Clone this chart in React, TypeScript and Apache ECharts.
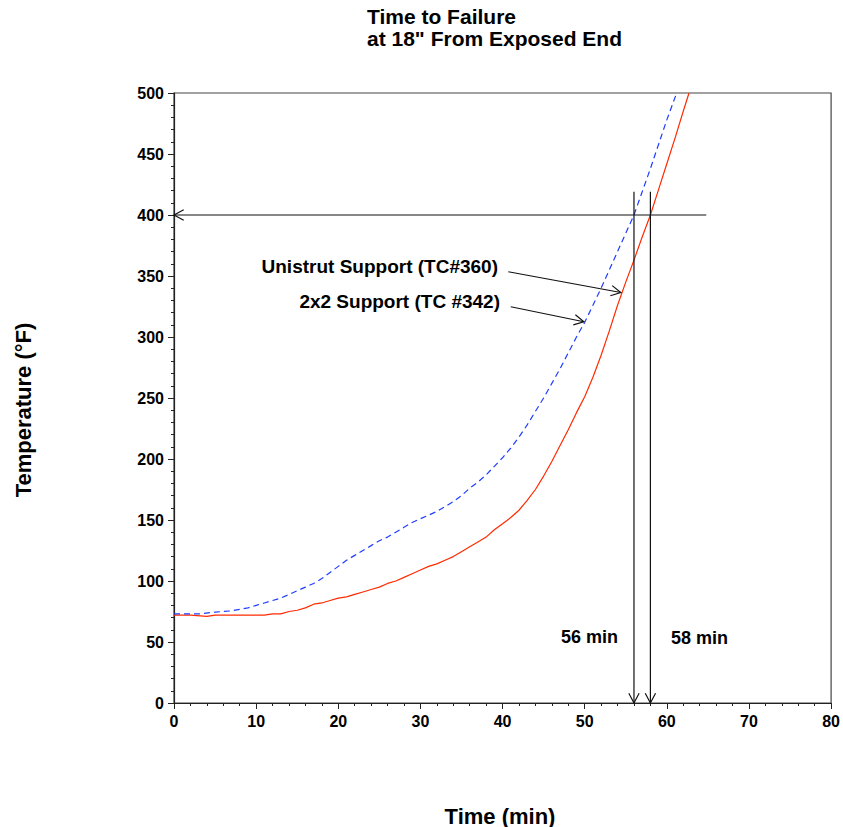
import React, { useEffect, useRef } from "react";
import * as echarts from "echarts";

const titleLine1 = "Time to Failure";
const titleLine2 = "at 18\" From Exposed End";
const xAxisTitle = "Time (min)";
const yAxisTitle = "Temperature (°F)";

// Unistrut Support (TC#360) - red solid
const unistrut: [number, number][] = [
  [0, 72], [2, 72], [4, 71], [5, 72], [8, 72], [11, 72], [12, 73], [13, 73], [14, 75], [15, 76],
  [16, 78], [17, 81], [18, 82], [19, 84], [20, 86], [21, 87], [22, 89], [23, 91], [24, 93], [25, 95],
  [26, 98], [27, 100], [28, 103], [29, 106], [30, 109], [31, 112], [32, 114], [33, 117], [34, 120],
  [35, 124], [36, 128], [37, 132], [38, 136], [39, 142], [40, 147], [41, 152], [42, 158], [43, 166],
  [44, 175], [45, 186], [46, 198], [47, 211], [48, 224], [49, 238], [50, 251], [51, 267], [52, 285],
  [53, 305], [54, 326], [55, 345], [56, 363], [57, 382], [58, 400], [59, 421], [60, 442], [61, 463],
  [62, 485], [62.7, 500],
];

// 2x2 Support (TC #342) - blue dashed
const twoByTwo: [number, number][] = [
  [0, 73], [3, 73], [5, 74.5], [7, 75.5], [9, 78], [10, 80], [11, 82], [12, 84], [13, 86], [14, 89],
  [15, 92], [16, 95], [17, 98], [18, 102], [19, 107], [20, 112], [21, 117], [22, 121], [23, 125],
  [24, 129], [25, 133], [26, 136], [27, 140], [28, 144], [29, 148], [30, 151], [31, 154], [32, 157],
  [33, 161], [34, 165], [35, 170], [36, 176], [37, 181], [38, 187], [39, 194], [40, 201], [41, 209],
  [42, 218], [43, 228], [44, 239], [45, 250], [46, 262], [47, 274], [48, 287], [49, 300], [50, 312],
  [51, 326], [52, 340], [53, 355], [54, 370], [55, 385], [56, 400], [57, 419], [58, 438], [59, 458],
  [60, 478], [61.2, 500],
];

// arrows: [x1, y1, x2, y2] (head at x2,y2)
const arrows: [number, number, number, number][] = [
  [64.8, 400, 0, 400],
  [56, 419, 56, 0],
  [58, 419, 58, 0],
  [40.7, 353.5, 54.4, 336.5],
  [41.0, 324.8, 49.9, 312.5],
];

const labelUnistrut = "Unistrut Support (TC#360)";
const label2x2 = "2x2 Support (TC #342)";
const label56 = "56 min";
const label58 = "58 min";

const FONT = "'Liberation Sans', Arial, Helvetica, sans-serif";

export default function App() {
  const ref = useRef<HTMLDivElement>(null);
  useEffect(() => {
    if (!ref.current) return;
    const chart = echarts.init(ref.current, null, { renderer: "svg" });
    const axisCommon = {
      axisLine: { show: true, lineStyle: { color: "#222", width: 1.2 } },
      axisTick: { show: true, length: 6, lineStyle: { color: "#222", width: 1 } },
      minorTick: { show: true, splitNumber: 5, length: 3, lineStyle: { color: "#222", width: 1 } },
      splitLine: { show: false },
    };
    const txt = (text: string, x: number, y: number, size: number, align: string, extra: any = {}) => ({
      type: "text", x, y, ...extra,
      style: {
        text, fontSize: size, fontWeight: "bold", fontFamily: FONT, fill: "#000",
        textAlign: align, textVerticalAlign: "middle",
      },
    });
    chart.setOption({
      animation: false,
      backgroundColor: "#fff",
      grid: {
        left: 174, top: 93, right: 10, bottom: 124,
        show: true, borderColor: "#444", borderWidth: 1.2,
      },
      xAxis: {
        type: "value", min: 0, max: 80, interval: 10,
        ...axisCommon,
        axisLabel: { fontSize: 16, fontWeight: "bold", color: "#000", fontFamily: FONT, margin: 10 },
      },
      yAxis: {
        type: "value", min: 0, max: 500, interval: 50,
        ...axisCommon,
        axisLabel: { fontSize: 16, fontWeight: "bold", color: "#000", fontFamily: FONT, margin: 10 },
      },
      series: [
        {
          type: "line", name: "Unistrut", data: unistrut, showSymbol: false, symbol: "none",
          lineStyle: { color: "#ff2a00", width: 1.2 }, z: 3,
        },
        {
          type: "line", name: "2x2", data: twoByTwo, showSymbol: false, symbol: "none",
          lineStyle: { color: "#1f3dff", width: 1.2, type: [6, 4] }, z: 3,
        },
        {
          type: "custom",
          name: "arrows",
          data: arrows,
          dimensions: ["x1", "y1", "x2", "y2"],
          encode: { x: [0, 2], y: [1, 3] },
          clip: false,
          z: 4,
          renderItem: (params: any, api: any) => {
            const p1 = api.coord([api.value(0), api.value(1)]);
            const p2 = api.coord([api.value(2), api.value(3)]);
            const ang = Math.atan2(p2[1] - p1[1], p2[0] - p1[0]);
            const L = 11;
            const a = (28 * Math.PI) / 180;
            const h1 = [p2[0] - L * Math.cos(ang - a), p2[1] - L * Math.sin(ang - a)];
            const h2 = [p2[0] - L * Math.cos(ang + a), p2[1] - L * Math.sin(ang + a)];
            const st = { stroke: "#111", lineWidth: 1.2, fill: null };
            return {
              type: "group",
              children: [
                { type: "line", shape: { x1: p1[0], y1: p1[1], x2: p2[0], y2: p2[1] }, style: st },
                { type: "polyline", shape: { points: [h1, p2, h2] }, style: st },
              ],
            };
          },
        },
      ],
      graphic: [
        txt(titleLine1, 367, 16, 21, "left"),
        txt(titleLine2, 367, 38, 21, "left"),
        txt(xAxisTitle, 500, 816, 22, "center"),
        txt(yAxisTitle, 23, 410, 22, "center", { rotation: Math.PI / 2 }),
        txt(labelUnistrut, 498, 266, 19, "right"),
        txt(label2x2, 500, 301, 19, "right"),
        txt(label56, 561, 637, 18, "left"),
        txt(label58, 671, 638, 18, "left"),
      ],
    });
    return () => chart.dispose();
  }, []);
  return (
    <div
      ref={ref}
      style={{ position: "absolute", left: 0, top: 0, width: 843, height: 827 }}
    />
  );
}
